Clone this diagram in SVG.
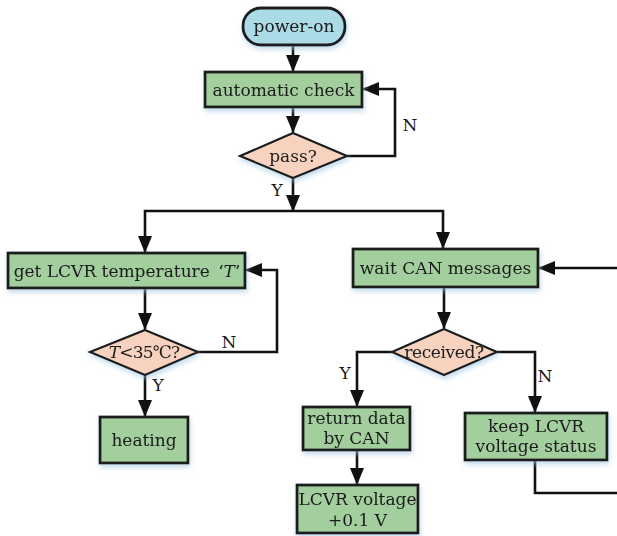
<svg xmlns="http://www.w3.org/2000/svg" width="617" height="536" viewBox="0 0 617 536">
<defs>
<style>
.box{fill:#a3cf9e;stroke:#1a1a1a;stroke-width:2.8}
.start{fill:#aadbe7;stroke:#1a1a1a;stroke-width:2.8}
.dia{fill:#f7d3bf;stroke:#1a1a1a;stroke-width:2.2}
.t{font-family:"DejaVu Serif",serif;font-size:17px;fill:#1a1a1a;text-anchor:middle}
.lbl{font-family:"DejaVu Serif",serif;font-size:17px;fill:#1a1a1a;text-anchor:middle}
.c{fill:none;stroke:#111;stroke-width:2.6}
</style>
<marker id="ah" viewBox="0 0 17 14" refX="16" refY="7" markerWidth="17" markerHeight="14" orient="auto" markerUnits="userSpaceOnUse">
<path d="M0,0 L17,7 L0,14 z" fill="#111"/>
</marker>
<filter id="sh" x="-10%" y="-20%" width="120%" height="160%">
<feGaussianBlur in="SourceAlpha" stdDeviation="2.5"/>
<feOffset dx="1" dy="3" result="b"/>
<feFlood flood-color="#9cc3e0" flood-opacity="0.6"/>
<feComposite in2="b" operator="in"/>
<feMerge><feMergeNode/><feMergeNode in="SourceGraphic"/></feMerge>
</filter>
</defs>
<rect width="617" height="536" fill="#ffffff"/>
<g id="connectors">
<path class="c" d="M293,45 V71" marker-end="url(#ah)"/>
<path class="c" d="M293,107 V132" marker-end="url(#ah)"/>
<path class="c" d="M347,156 H395 V89 H363" marker-end="url(#ah)"/>
<path class="c" d="M293,178 V211" marker-end="url(#ah)"/>
<path class="c" d="M293,211 H145 V252" marker-end="url(#ah)"/>
<path class="c" d="M293,211 H443 V248" marker-end="url(#ah)"/>
<path class="c" d="M145,288 V329" marker-end="url(#ah)"/>
<path class="c" d="M197,352 H277 V270 H246" marker-end="url(#ah)"/>
<path class="c" d="M145,375 V416" marker-end="url(#ah)"/>
<path class="c" d="M617,268 H539" marker-end="url(#ah)"/>
<path class="c" d="M444,287 V328" marker-end="url(#ah)"/>
<path class="c" d="M392,352 H357 V406" marker-end="url(#ah)"/>
<path class="c" d="M497,352 H535 V412" marker-end="url(#ah)"/>
<path class="c" d="M357,450 V484" marker-end="url(#ah)"/>
<path class="c" d="M535,460 V493 H617"/>
<text class="lbl" x="410" y="131">N</text>
<text class="lbl" x="277" y="196">Y</text>
<text class="lbl" x="229" y="348">N</text>
<text class="lbl" x="158" y="391">Y</text>
<text class="lbl" x="345" y="379">Y</text>
<text class="lbl" x="545" y="382">N</text>
</g>
<g id="power-on" filter="url(#sh)">
<rect class="start" x="243" y="8" width="102" height="37" rx="18" ry="18"/>
<text class="t" x="294" y="32">power-on</text>
</g>
<g id="automatic-check" filter="url(#sh)">
<rect class="box" x="205" y="72" width="157" height="35"/>
<text class="t" x="283.5" y="95.5">automatic check</text>
</g>
<g id="pass" filter="url(#sh)">
<polygon class="dia" points="293,133 347,156 293,178 240,156"/>
<text class="t" x="293" y="161.5">pass?</text>
</g>
<g id="get-temp" filter="url(#sh)">
<rect class="box" x="8" y="253" width="237" height="35"/>
<text class="t" x="127" y="276.5">get LCVR temperature <tspan dx="3">‘</tspan><tspan font-style="italic">T</tspan>’</text>
</g>
<g id="temp-check" filter="url(#sh)">
<polygon class="dia" points="145,330 198,352 145,375 90,352"/>
<text class="t" x="144" y="358" letter-spacing="-0.8"><tspan font-style="italic">T</tspan>&lt;35℃?</text>
</g>
<g id="heating" filter="url(#sh)">
<rect class="box" x="100" y="417" width="88" height="46"/>
<text class="t" x="144" y="446">heating</text>
</g>
<g id="wait-can" filter="url(#sh)">
<rect class="box" x="353" y="249" width="185" height="38"/>
<text class="t" x="445.5" y="274">wait CAN messages</text>
</g>
<g id="received" filter="url(#sh)">
<polygon class="dia" points="444,329 497,352 444,375 392,352"/>
<text class="t" x="444" y="358" letter-spacing="-0.4">received?</text>
</g>
<g id="return-data" filter="url(#sh)">
<rect class="box" x="303" y="407" width="107" height="43"/>
<text class="t" x="356.5" y="424">return data</text>
<text class="t" x="356.5" y="444">by CAN</text>
</g>
<g id="keep-status" filter="url(#sh)">
<rect class="box" x="465" y="413" width="142" height="47"/>
<text class="t" x="536" y="432">keep LCVR</text>
<text class="t" x="536" y="452">voltage status</text>
</g>
<g id="voltage-up" filter="url(#sh)">
<rect class="box" x="297" y="485" width="121" height="48"/>
<text class="t" x="357.5" y="505">LCVR voltage</text>
<text class="t" x="357.5" y="526">+0.1 V</text>
</g>
</svg>
